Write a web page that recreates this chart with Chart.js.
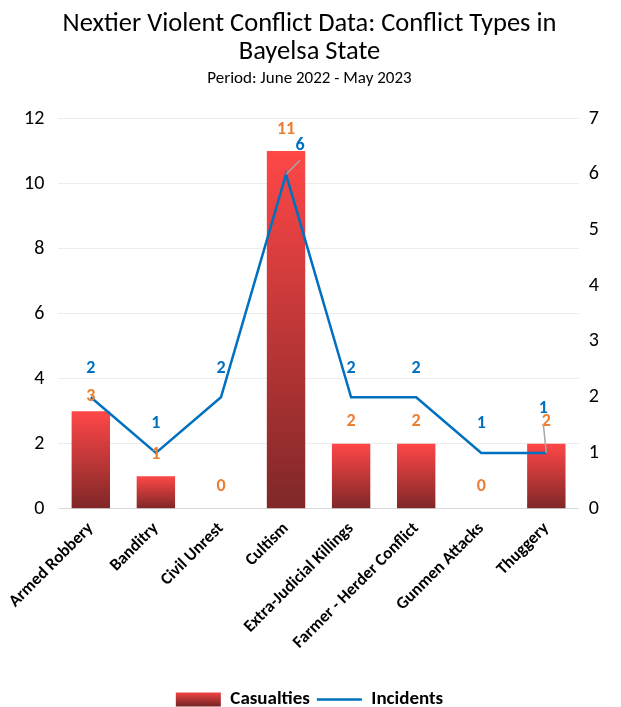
<!DOCTYPE html>
<html>
<head>
<meta charset="utf-8">
<script src="https://cdn.jsdelivr.net/npm/chart.js@4.4.0/dist/chart.umd.min.js"></script>
<style>
    html, body { margin: 0; padding: 0; background: #fff; }
    #wrap { width: 621px; height: 707px; }
</style>
</head>
<body>
<div id="wrap"><canvas id="chart"></canvas></div>
<script>
/* data */
const categories = [
    "Armed Robbery", "Banditry", "Civil Unrest", "Cultism",
    "Extra-Judicial Killings", "Farmer - Herder Conflict", "Gunmen Attacks", "Thuggery"
];
const casualties = [3, 1, 0, 11, 2, 2, 0, 2];
const incidents = [2, 1, 2, 6, 2, 2, 1, 1];
const leftTicks = [0, 2, 4, 6, 8, 10, 12];
const rightTicks = [0, 1, 2, 3, 4, 5, 6, 7];

const FONT = "Carlito, Lato, 'Open Sans', sans-serif";
const BLUE = "#0070c0";
const ORANGE = "#ed7d31";
const RED_TOP = "#ff4747";
const RED_BOTTOM = "#7f2728";

function barGradient(context) {
    const chart = context.chart;
    if (!chart.chartArea || context.type !== "data") return "#e03c3c";
    const y = chart.scales.y;
    const top = y.getPixelForValue(context.parsed.y);
    const base = y.getPixelForValue(0);
    if (base - top < 1) return "#e03c3c";
    const g = chart.ctx.createLinearGradient(0, top, 0, base);
    g.addColorStop(0, RED_TOP);
    g.addColorStop(1, RED_BOTTOM);
    return g;
}

// label nudges for the crowded spots (Excel moved these by hand)
const labelMoves = {
    0: { 0: { dy: 7 } },
    1: { 3: { dx: 14, dy: 0, leader: true }, 7: { dx: -3, dy: -15, leader: true } }
};

const valueLabels = {
    id: "valueLabels",
    afterDatasetsDraw(chart) {
        const ctx = chart.ctx;
        ctx.save();
        ctx.font = "bold 18px " + FONT;
        ctx.textAlign = "center";
        ctx.textBaseline = "middle";
        chart.data.datasets.forEach((ds, di) => {
            const meta = chart.getDatasetMeta(di);
            meta.data.forEach((el, i) => {
                const move = (labelMoves[di] || {})[i] || {};
                const x = el.x + (move.dx || 0);
                const y = el.y - (di === 0 ? 22 : 29) + (move.dy || 0);
                if (move.leader) {
                    ctx.strokeStyle = "#a6a6a6";
                    ctx.lineWidth = 1.5;
                    ctx.beginPath();
                    ctx.moveTo(el.x, el.y);
                    if (move.dx) ctx.lineTo(x, y + 15);
                    else ctx.lineTo(x + 3, y + 15);
                    ctx.stroke();
                }
                ctx.fillStyle = di === 0 ? ORANGE : BLUE;
                ctx.fillText(String(ds.data[i]), x, y);
            });
        });
        ctx.restore();
    }
};

new Chart(document.getElementById("chart").getContext("2d"), {
    type: "bar",
    data: {
        labels: categories,
        datasets: [
            {
                label: "Casualties",
                data: casualties,
                backgroundColor: barGradient,
                barPercentage: 0.59,
                categoryPercentage: 1,
                yAxisID: "y",
                order: 2
            },
            {
                type: "line",
                label: "Incidents",
                data: incidents,
                borderColor: BLUE,
                borderWidth: 2.5,
                pointRadius: 0,
                tension: 0,
                fill: false,
                yAxisID: "y1",
                order: 1
            }
        ]
    },
    options: {
        responsive: true,
        maintainAspectRatio: false,
        animation: false,
        layout: { padding: { left: 10, right: 12, top: 4, bottom: -12 } },
        plugins: {
            title: {
                display: true,
                text: ["Nextier Violent Conflict Data: Conflict Types in", "Bayelsa State"],
                color: "#000",
                font: { family: FONT, size: 26.5, weight: "normal", lineHeight: 1.06 },
                padding: { top: 6, bottom: 2 }
            },
            subtitle: {
                display: true,
                text: "Period: June 2022 - May 2023",
                color: "#000",
                font: { family: FONT, size: 17 },
                padding: { top: 0, bottom: 30 }
            },
            legend: {
                position: "bottom",
                labels: {
                    usePointStyle: true,
                    pointStyleWidth: 45,
                    boxHeight: 14,
                    padding: 7,
                    color: "#000",
                    font: { family: FONT, size: 19, weight: "bold", lineHeight: 1 },
                    generateLabels(chart) {
                        const h = chart.height;
                        const g = chart.ctx.createLinearGradient(0, h - 16, 0, h - 2);
                        g.addColorStop(0, RED_TOP);
                        g.addColorStop(1, RED_BOTTOM);
                        return [
                            { text: "Casualties", fillStyle: g, strokeStyle: "transparent", lineWidth: 0, pointStyle: "rect", datasetIndex: 0, fontColor: "#000" },
                            { text: "Incidents", fillStyle: BLUE, strokeStyle: BLUE, lineWidth: 2.5, pointStyle: "line", datasetIndex: 1, fontColor: "#000" }
                        ];
                    }
                }
            },
            tooltip: { enabled: false }
        },
        scales: {
            x: {
                grid: { display: false },
                border: { color: "#d9d9d9", width: 1 },
                afterFit(axis) {
                    axis.paddingRight = 0;
                    axis.height += 28;
                },
                ticks: {
                    color: "#000",
                    maxRotation: 45,
                    minRotation: 45,
                    padding: 2,
                    font: { family: FONT, size: 17, weight: "bold" }
                }
            },
            y: {
                position: "left",
                min: 0,
                max: 12,
                afterBuildTicks(axis) { axis.ticks = leftTicks.map(v => ({ value: v })); },
                grid: { color: "#ececec", drawTicks: false },
                border: { display: false },
                ticks: { color: "#000", padding: 14, font: { family: FONT, size: 20 } }
            },
            y1: {
                position: "right",
                min: 0,
                max: 7,
                afterBuildTicks(axis) { axis.ticks = rightTicks.map(v => ({ value: v })); },
                grid: { drawOnChartArea: false, drawTicks: false },
                border: { display: false },
                ticks: { color: "#000", padding: 10, font: { family: FONT, size: 20 } }
            }
        }
    },
    plugins: [valueLabels]
});
</script>
</body>
</html>
